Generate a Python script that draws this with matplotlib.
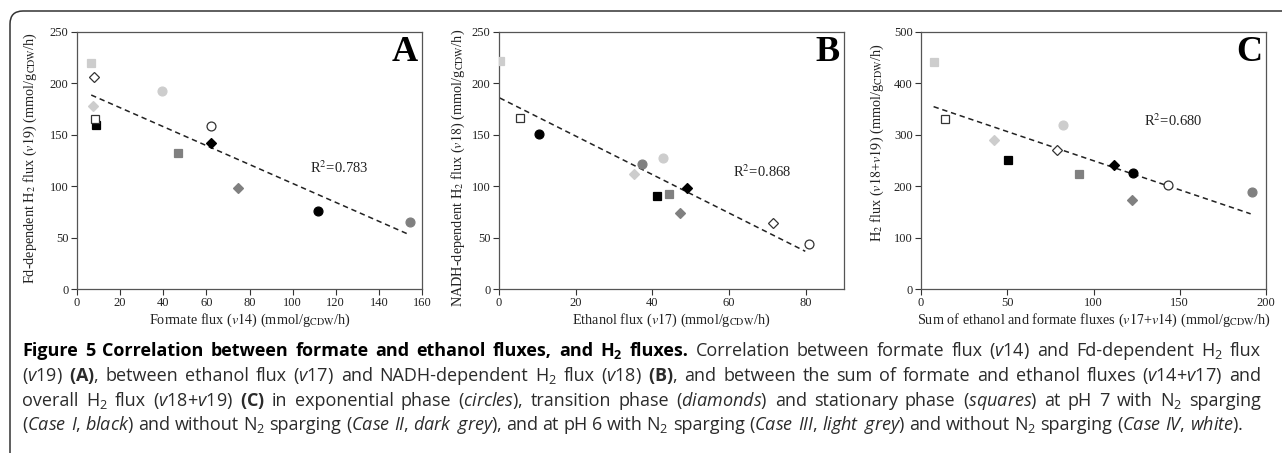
import numpy as np
import matplotlib
matplotlib.use("Agg")
import matplotlib.pyplot as plt
from matplotlib.patches import FancyBboxPatch

plt.rcParams['font.family'] = ['Liberation Serif', 'DejaVu Serif']
plt.rcParams['mathtext.fontset'] = 'custom'
plt.rcParams['mathtext.rm'] = 'Open Sans'
plt.rcParams['mathtext.it'] = 'Open Sans:italic'
plt.rcParams['mathtext.bf'] = 'Open Sans:bold'

# order in every list: Case I, II, III, IV
CASE_COLORS = ['black', '#808080', '#cdcdcd', 'white']
PHASES = ['exponential', 'transition', 'stationary']
PHASE_MARKERS = {'exponential': 'o', 'transition': 'D', 'stationary': 's'}

# panel A: formate flux (v14) vs Fd-dependent H2 flux (v19)
a_x = {'exponential': [111.9, 154.3, 39.3, 62.0],
       'transition': [62.1, 74.7, 7.3, 7.7],
       'stationary': [8.7, 46.8, 6.6, 8.2]}
a_y = {'exponential': [76.2, 65.5, 192.3, 158.9],
       'transition': [142.0, 97.9, 177.7, 206.5],
       'stationary': [159.9, 132.0, 220.0, 165.4]}

# panel B: ethanol flux (v17) vs NADH-dependent H2 flux (v18)
b_x = {'exponential': [10.4, 37.4, 42.8, 80.9],
       'transition': [49.1, 47.2, 35.2, 71.5],
       'stationary': [41.3, 44.4, 0.2, 5.4]}
b_y = {'exponential': [150.5, 121.9, 127.8, 43.4],
       'transition': [98.2, 73.9, 111.9, 64.5],
       'stationary': [90.5, 92.1, 222.0, 166.0]}

# panel C: v17+v14 vs v18+v19
c_x = {'exponential': [122.7, 192.1, 82.1, 143.0],
       'transition': [111.9, 122.1, 42.5, 79.0],
       'stationary': [50.4, 91.6, 7.3, 14.1]}
c_y = {'exponential': [226.3, 188.0, 319.0, 202.3],
       'transition': [240.6, 172.5, 289.9, 270.4],
       'stationary': [250.3, 223.7, 441.6, 330.7]}

panels = [
    dict(x=a_x, y=a_y, letter='A', r2='R$^2$=0.783', r2pos=(108, 113), ylab=(-0.11, 0.51),
         xlim=(0, 160), xticks=range(0, 161, 20), ylim=(0, 250), yticks=range(0, 251, 50),
         xlabel=r'Formate flux ($\mathit{v14}$) (mmol/g$_{\mathrm{CDW}}$/h)',
         ylabel=r'Fd-dependent H$_2$ flux ($\mathit{v19}$) (mmol/g$_{\mathrm{CDW}}$/h)'),
    dict(x=b_x, y=b_y, letter='B', r2='R$^2$=0.868', r2pos=(61, 109), ylab=(-0.093, 0.47),
         xlim=(0, 90), xticks=range(0, 81, 20), ylim=(0, 250), yticks=range(0, 251, 50),
         xlabel=r'Ethanol flux ($\mathit{v17}$) (mmol/g$_{\mathrm{CDW}}$/h)',
         ylabel=r'NADH-dependent H$_2$ flux ($\mathit{v18}$) (mmol/g$_{\mathrm{CDW}}$/h)'),
    dict(x=c_x, y=c_y, letter='C', r2='R$^2$=0.680', r2pos=(129, 318), ylab=(-0.101, 0.57),
         xlim=(0, 200), xticks=range(0, 201, 50), ylim=(0, 500), yticks=range(0, 501, 100),
         xlabel=r'Sum of ethanol and formate fluxes ($\mathit{v17}$+$\mathit{v14}$) (mmol/g$_{\mathrm{CDW}}$/h)',
         ylabel=r'H$_2$ flux ($\mathit{v18}$+$\mathit{v19}$) (mmol/g$_{\mathrm{CDW}}$/h)'),
]

# caption, one string per printed line; the first N_BOLD words of line 1 are bold
caption = [
    r'Figure 5 Correlation between formate and ethanol fluxes, and $\mathbf{H_2}$ fluxes.'
    r' Correlation between formate flux ($\mathit{v14}$) and Fd-dependent H$_2$ flux',
    r'($\mathit{v19}$) $\mathbf{(A)}$, between ethanol flux ($\mathit{v17}$) and NADH-dependent H$_2$ flux'
    r' ($\mathit{v18}$) $\mathbf{(B)}$, and between the sum of formate and ethanol fluxes'
    r' ($\mathit{v14}$+$\mathit{v17}$) and',
    r'overall H$_2$ flux ($\mathit{v18}$+$\mathit{v19}$) $\mathbf{(C)}$ in exponential phase ($\mathit{circles}$),'
    r' transition phase ($\mathit{diamonds}$) and stationary phase ($\mathit{squares}$) at pH 7 with N$_2$ sparging',
    r'($\mathit{Case}$ $\mathit{I}$, $\mathit{black}$) and without N$_2$ sparging ($\mathit{Case}$ $\mathit{II}$,'
    r' $\mathit{dark}$ $\mathit{grey}$), and at pH 6 with N$_2$ sparging ($\mathit{Case}$ $\mathit{III}$,'
    r' $\mathit{light}$ $\mathit{grey}$) and without N$_2$ sparging ($\mathit{Case}$ $\mathit{IV}$, $\mathit{white}$).',
]
N_BOLD = 11
caption_right = [1261, 1261, 1261, 1243]

W, H = 1282, 453
fig = plt.figure(figsize=(W / 100, H / 100), dpi=100)

# rounded frame, cut by the right and bottom edges
frame = FancyBboxPatch((0.10, -1.0), 20, (H - 11) / 100 + 1.0,
                       boxstyle="round,pad=0,rounding_size=0.13",
                       transform=fig.dpi_scale_trans, fill=False,
                       edgecolor='#333333', linewidth=1.1)
fig.patches.append(frame)

lefts = [77, 499, 921]
for left, p in zip(lefts, panels):
    ax = fig.add_axes([left / W, (H - 289) / H, 345 / W, 257 / H])
    allx, ally = [], []
    for ph in PHASES:
        for xv, yv, col in zip(p['x'][ph], p['y'][ph], CASE_COLORS):
            mk = PHASE_MARKERS[ph]
            ms = {'o': 6.4, 'D': 5.4, 's': 5.6}[mk]
            ec = '#333333' if col == 'white' else col
            ax.plot(xv, yv, marker=mk, ms=ms, color=col, mfc=col, mec=ec,
                    mew=0.9, ls='none', zorder=3)
            allx.append(xv)
            ally.append(yv)
    allx, ally = np.array(allx), np.array(ally)
    k, b = np.polyfit(allx, ally, 1)
    xs = np.array([allx.min(), allx.max() - 1])
    ax.plot(xs, k * xs + b, ls=(0, (3.5, 2.5)), color='#222222', lw=1.1, zorder=2)

    ax.set_xlim(*p['xlim'])
    ax.set_ylim(*p['ylim'])
    ax.set_xticks(list(p['xticks']))
    ax.set_yticks(list(p['yticks']))
    ax.tick_params(direction='out', length=4, width=0.8, colors='#333333',
                   labelsize=9, pad=2, labelcolor='#222222')
    for s in ax.spines.values():
        s.set_color('#555555')
        s.set_linewidth(0.9)
    ax.set_xlabel(p['xlabel'], fontsize=10.3, color='#222222', labelpad=2,
                  math_fontfamily='stix')
    ax.set_ylabel(p['ylabel'], fontsize=10.3, color='#222222', labelpad=3,
                  math_fontfamily='stix')
    ax.yaxis.set_label_coords(*p['ylab'])
    ax.text(*p['r2pos'], p['r2'], fontsize=10.5, color='#222222', math_fontfamily='stix')
    ax.text(0.988, 0.985, p['letter'], transform=ax.transAxes, ha='right', va='top',
            fontsize=26, fontweight='bold', color='black')

# caption: words placed one by one so each line is justified
renderer = fig.canvas.get_renderer()
base = [356, 381, 406, 430]
x0 = 22
for li, (yb, line, xr) in enumerate(zip(base, caption, caption_right)):
    words = line.split(' ')
    texts = []
    for wi, w in enumerate(words):
        bold = (li == 0 and wi < N_BOLD)
        t = fig.text(0, 1 - yb / H, w, family=['Open Sans', 'DejaVu Sans'],
                     fontsize=13, color='black' if bold else '#2b2b2b',
                     fontweight='bold' if bold else 'normal',
                     va='baseline', ha='left')
        texts.append(t)
    widths = [t.get_window_extent(renderer).width for t in texts]
    gap = (xr - x0 - sum(widths)) / (len(texts) - 1)
    xc = x0
    for t, wdt in zip(texts, widths):
        t.set_x(xc / W)
        xc += wdt + gap

fig.savefig('out.png', dpi=100)
